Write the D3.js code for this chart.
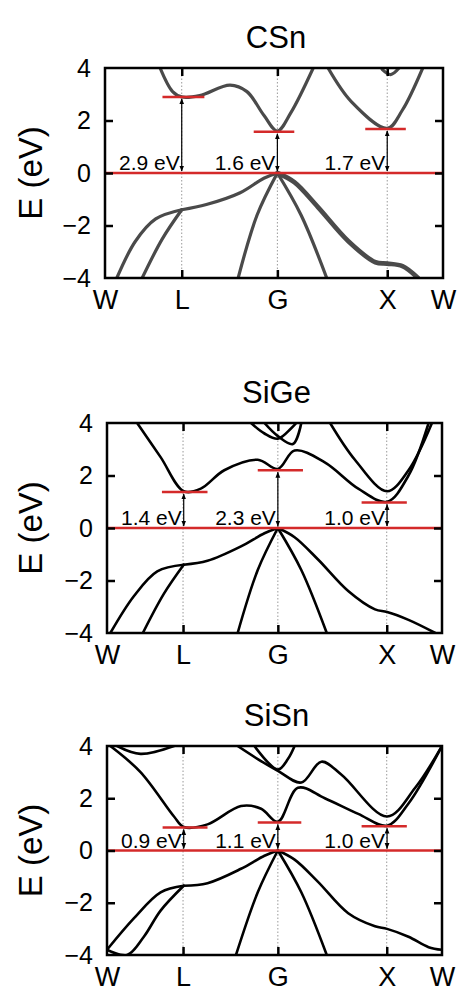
<!DOCTYPE html>
<html>
<head>
<meta charset="utf-8">
<script src="https://cdn.jsdelivr.net/npm/d3@7"></script>
<style>
  body { margin: 0; background: #fff; }
  text { font-family: "Liberation Sans", Arial, sans-serif; }
</style>
</head>
<body>
<svg id="chart" width="474" height="1008"></svg>
<script>
// k-path labels and positions (fraction of path length)
var kLabels = ["W", "L", "G", "X", "W"];
var kTicks = [0, 0.227, 0.51, 0.835, 1];
var yTicks = [-4, -2, 0, 2, 4];

// CSn bands [k, E]
var csnBands = [
  [[0.035, -4], [0.09, -2.6], [0.15, -1.75], [0.227, -1.4]],
  [[0.11, -4], [0.17, -2.5], [0.227, -1.4]],
  [[0.227, -1.4], [0.3, -1.2], [0.4, -0.75], [0.47, -0.2], [0.51, 0]],
  [[0.51, 0], [0.56, -0.35], [0.63, -1.3], [0.72, -2.6], [0.8, -3.4], [0.835, -3.45], [0.88, -3.55], [0.926, -4]],
  [[0.51, 0], [0.45, -1.6], [0.394, -4]],
  [[0.51, 0], [0.58, -1.6], [0.656, -4]],
  [[0.163, 4], [0.2, 3.1], [0.227, 2.9], [0.28, 2.95], [0.37, 3.35], [0.42, 3.1], [0.47, 2.2], [0.51, 1.6], [0.55, 2.3], [0.616, 4]],
  [[0.66, 4], [0.73, 2.7], [0.835, 1.7], [0.88, 2.4], [0.94, 4]],
  [[0.82, 3.95], [0.845, 3.75], [0.87, 4]]
];
var csnGaps = [
  { k: 0.227, e: 2.9, from: 0.17, to: 0.294, label: "2.9 eV" },
  { k: 0.51, e: 1.57, from: 0.44, to: 0.56, label: "1.6 eV" },
  { k: 0.835, e: 1.68, from: 0.77, to: 0.89, label: "1.7 eV" }
];

// SiGe bands
var sigeBands = [
  [[0.01, -4], [0.08, -2.6], [0.15, -1.65], [0.229, -1.4]],
  [[0.107, -4], [0.17, -2.5], [0.229, -1.4]],
  [[0.229, -1.4], [0.3, -1.25], [0.4, -0.7], [0.47, -0.2], [0.51, 0]],
  [[0.51, 0], [0.56, -0.35], [0.63, -1.2], [0.72, -2.4], [0.8, -3.1], [0.836, -3.2], [0.9, -3.5], [0.98, -4]],
  [[0.51, 0], [0.45, -1.6], [0.39, -4]],
  [[0.51, 0], [0.58, -1.6], [0.656, -4]],
  [[0.09, 4], [0.16, 2.7], [0.229, 1.4], [0.28, 1.5], [0.35, 2.2], [0.45, 2.6], [0.51, 2.25], [0.56, 2.95], [0.65, 2.5], [0.75, 1.5], [0.836, 1.0], [0.9, 2.0], [0.96, 4]],
  [[0.666, 4], [0.74, 2.6], [0.836, 1.4], [0.9, 2.2], [0.97, 4]],
  [[0.43, 4], [0.47, 3.6], [0.51, 3.4], [0.55, 3.8], [0.565, 4]],
  [[0.47, 4], [0.51, 3.5], [0.555, 3.2], [0.58, 4]]
];
var sigeGaps = [
  { k: 0.229, e: 1.37, from: 0.164, to: 0.3, label: "1.4 eV" },
  { k: 0.51, e: 2.2, from: 0.45, to: 0.585, label: "2.3 eV" },
  { k: 0.836, e: 0.97, from: 0.76, to: 0.895, label: "1.0 eV" }
];

// SiSn bands
var sisnBands = [
  [[0, -3.8], [0.06, -4.0], [0.11, -3.3], [0.16, -2.3], [0.229, -1.35]],
  [[0, -3.8], [0.08, -2.6], [0.16, -1.6], [0.229, -1.35]],
  [[0.229, -1.35], [0.3, -1.25], [0.4, -0.7], [0.47, -0.2], [0.51, 0]],
  [[0.51, 0], [0.56, -0.35], [0.63, -1.2], [0.72, -2.4], [0.8, -2.9], [0.836, -3.0], [0.9, -3.3], [0.96, -3.7], [1, -3.8]],
  [[0.51, 0], [0.45, -1.6], [0.385, -4]],
  [[0.51, 0], [0.58, -1.6], [0.656, -4]],
  [[0.01, 4], [0.1, 3.0], [0.2, 1.3], [0.229, 0.9], [0.3, 1.0], [0.4, 1.7], [0.46, 1.6], [0.51, 1.1], [0.57, 2.4], [0.65, 2.0], [0.75, 1.4], [0.836, 0.95], [0.9, 1.8], [1, 4]],
  [[0.03, 4], [0.1, 3.7], [0.2, 4]],
  [[0.39, 4], [0.45, 3.5], [0.51, 3.05], [0.58, 2.6], [0.64, 3.4], [0.7, 2.9], [0.836, 1.3], [0.92, 2.4], [1, 4]],
  [[0.44, 4], [0.51, 3.1], [0.54, 3.5], [0.56, 4]]
];
var sisnGaps = [
  { k: 0.229, e: 0.88, from: 0.166, to: 0.3, label: "0.9 eV" },
  { k: 0.51, e: 1.07, from: 0.45, to: 0.58, label: "1.1 eV" },
  { k: 0.836, e: 0.93, from: 0.76, to: 0.895, label: "1.0 eV" }
];

var svg = d3.select("#chart");
svg.append("defs").append("marker")
  .attr("id", "arr").attr("viewBox", "0 0 10 10").attr("refX", 9).attr("refY", 5)
  .attr("markerWidth", 5).attr("markerHeight", 5).attr("orient", "auto-start-reverse")
  .append("path").attr("d", "M0,1L10,5L0,9z").attr("fill", "#000");

function drawPanel(opt) {
  var x = d3.scaleLinear().domain([0, 1]).range([opt.left, opt.right]);
  var y = d3.scaleLinear().domain([-4, 4]).range([opt.bottom, opt.top]);
  var g = svg.append("g");

  g.append("text").attr("x", (opt.left + opt.right) / 2 + 2).attr("y", opt.top - 20)
    .attr("text-anchor", "middle").attr("font-size", 31).text(opt.title);

  // dotted high-symmetry lines
  g.selectAll(".vline").data(kTicks.slice(1, 4)).enter().append("line")
    .attr("x1", x).attr("x2", x).attr("y1", opt.top).attr("y2", opt.bottom)
    .attr("stroke", "#999").attr("stroke-width", 1).attr("stroke-dasharray", "1.5,2");

  var clipId = "clip" + opt.title;
  g.append("clipPath").attr("id", clipId).append("rect")
    .attr("x", opt.left).attr("y", opt.top)
    .attr("width", opt.right - opt.left).attr("height", opt.bottom - opt.top);

  var line = d3.line().x(function (d) { return x(d[0]); })
    .y(function (d) { return y(d[1]); }).curve(d3.curveCatmullRom);
  g.append("g").attr("clip-path", "url(#" + clipId + ")")
    .selectAll("path").data(opt.bands).enter().append("path")
    .attr("d", line).attr("fill", "none")
    .attr("stroke", opt.color).attr("stroke-width", function (d, i) { return i === 3 ? opt.width + opt.extra : opt.width; })
    .attr("stroke-linecap", "round");

  // Fermi level
  g.append("line").attr("x1", x(0)).attr("x2", x(1)).attr("y1", y(0)).attr("y2", y(0))
    .attr("stroke", "#d42a2a").attr("stroke-width", 2.5);

  // gaps
  opt.gaps.forEach(function (gp) {
    g.append("line").attr("x1", x(gp.from)).attr("x2", x(gp.to))
      .attr("y1", y(gp.e)).attr("y2", y(gp.e))
      .attr("stroke", "#d42a2a").attr("stroke-width", 2.5);
    g.append("line").attr("x1", x(gp.k)).attr("x2", x(gp.k))
      .attr("y1", y(0) - 2).attr("y2", y(gp.e) + 2)
      .attr("stroke", "#000").attr("stroke-width", 1.2)
      .attr("marker-start", "url(#arr)").attr("marker-end", "url(#arr)");
    g.append("text").attr("x", x(gp.k) - 2).attr("y", y(0) - 3)
      .attr("text-anchor", "end").attr("font-size", 21).text(gp.label);
  });

  // frame
  g.append("rect").attr("x", opt.left).attr("y", opt.top)
    .attr("width", opt.right - opt.left).attr("height", opt.bottom - opt.top)
    .attr("fill", "none").attr("stroke", "#000").attr("stroke-width", 2.5);

  // axes with inward ticks
  var yAxis = d3.axisLeft(y).tickValues(yTicks).tickSize(-8).tickPadding(14)
    .tickFormat(function (d) { return d < 0 ? "\u2212" + Math.abs(d) : d; });
  var ya = g.append("g").attr("transform", "translate(" + opt.left + ",0)").call(yAxis);
  var yr = g.append("g").attr("transform", "translate(" + opt.right + ",0)")
    .call(d3.axisRight(y).tickValues(yTicks.slice(1, 4)).tickSize(-8).tickFormat(""));
  var xb = g.append("g").attr("transform", "translate(0," + opt.bottom + ")")
    .call(d3.axisBottom(x).tickValues(kTicks).tickSize(-8).tickPadding(12)
      .tickFormat(function (d, i) { return kLabels[i]; }));
  var xt = g.append("g").attr("transform", "translate(0," + opt.top + ")")
    .call(d3.axisTop(x).tickValues(kTicks.slice(1, 4)).tickSize(-8).tickFormat(""));
  [ya, yr, xb, xt].forEach(function (a) {
    a.attr("font-size", null);
    a.select(".domain").remove();
    a.selectAll(".tick line").attr("stroke", "#000").attr("stroke-width", 2.5);
    a.selectAll("text").attr("font-size", 25).attr("fill", "#000")
      .attr("font-family", "Liberation Sans, Arial, sans-serif");
  });
  ya.selectAll(".tick").filter(function (d) { return d === 4 || d === -4; })
    .select("line").remove();
  xb.selectAll(".tick").filter(function (d) { return d === 0 || d === 1; })
    .select("line").remove();
  xb.selectAll("text").attr("font-size", 27);

  g.append("text").attr("transform", "translate(42," + ((opt.top + opt.bottom) / 2) + ") rotate(-90)")
    .attr("text-anchor", "middle").attr("font-size", 33).text("E (eV)");
}

drawPanel({ title: "CSn", bands: csnBands, gaps: csnGaps, left: 105, right: 443, top: 68, bottom: 278, color: "#4a4a4a", width: 3.2, extra: 1.5 });
drawPanel({ title: "SiGe", bands: sigeBands, gaps: sigeGaps, left: 107, right: 442, top: 423, bottom: 633, color: "#000", width: 2.6, extra: 0 });
drawPanel({ title: "SiSn", bands: sisnBands, gaps: sisnGaps, left: 107, right: 442, top: 746, bottom: 955, color: "#000", width: 2.6, extra: 0 });
</script>
</body>
</html>
